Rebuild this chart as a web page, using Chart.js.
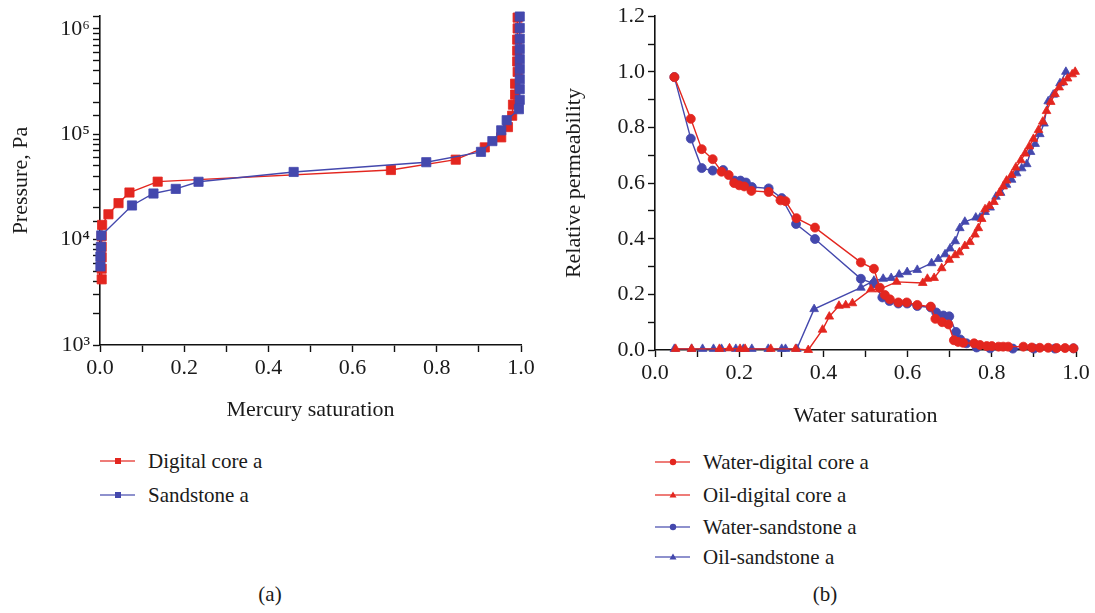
<!DOCTYPE html>
<html lang="en">

<head>
  <meta charset="UTF-8" />
  <title>Capillary pressure and relative permeability</title>
  <script src="https://cdn.jsdelivr.net/npm/chart.js"></script>
  <style>
    body {
      margin: 0;
      background: #fff;
      font-family: "Liberation Serif", "DejaVu Serif", serif;
      color: #1a1a1a;
    }

    .wrap {
      position: relative;
      width: 1095px;
      height: 613px;
      overflow: hidden;
    }

    .chart {
      position: absolute;
      top: 0;
    }

    .legend {
      position: absolute;
      font-size: 21px;
    }

    .legend .item {
      position: absolute;
      left: 0;
      white-space: nowrap;
      display: flex;
      align-items: center;
      height: 24px;
    }

    .legend svg {
      margin-right: 13px;
    }

    .panel {
      position: absolute;
      top: 582px;
      font-size: 21px;
      transform: translateX(-50%);
    }
  </style>
</head>

<body>
  <div class="wrap">
    <canvas id="pcChart" class="chart" width="545" height="440" style="left:0"></canvas>
    <canvas id="krChart" class="chart" width="550" height="440" style="left:545px"></canvas>

    <div class="legend" id="pcLegend" style="left:100px; top:449px"></div>
    <div class="legend" id="krLegend" style="left:655px; top:450px"></div>

    <div class="panel" style="left:270px">(a)</div>
    <div class="panel" style="left:825px">(b)</div>
  </div>

  <script>
    // (a) mercury injection: saturation vs pressure (Pa)
    const digitalSat = [0.004, 0.004, 0.004, 0.004, 0.004, 0.005, 0.02, 0.044, 0.07, 0.137, 0.691, 0.845, 0.914,
      0.953, 0.969, 0.979, 0.981, 0.986, 0.986, 0.992, 0.991, 0.991, 0.991, 0.992, 0.992];
    const digitalPressure = [4200, 5300, 6800, 8550, 10800, 13800, 17400, 22200, 28000, 35500, 45800, 57400, 75100,
      93500, 117000, 150000, 191000, 238000, 302000, 391000, 491000, 621000, 791000, 1010000, 1280000];
    const sandSat = [0.001, 0.001, 0.002, 0.003, 0.076, 0.127, 0.18, 0.234, 0.46, 0.775, 0.905, 0.932, 0.953, 0.966,
      0.995, 0.997, 0.997, 0.997, 0.997, 0.997, 0.997, 0.997, 0.997, 0.997];
    const sandPressure = [5570, 6900, 8550, 10960, 21100, 27400, 30300, 35400, 43900, 54300, 68100, 86100, 109000,
      136000, 173000, 212000, 268000, 333000, 417000, 516000, 644000, 807000, 1020000, 1310000];

    // (b) relative permeability vs water saturation
    const waterDigitalSw = [0.046, 0.085, 0.111, 0.137, 0.158, 0.175, 0.188, 0.2, 0.212, 0.229, 0.27, 0.298, 0.31,
      0.336, 0.38, 0.489, 0.52, 0.534, 0.546, 0.558, 0.578, 0.598, 0.623, 0.655, 0.666, 0.682, 0.697, 0.71, 0.72,
      0.732, 0.758, 0.772, 0.788, 0.8, 0.816, 0.827, 0.839, 0.875, 0.895, 0.914, 0.934, 0.954, 0.974, 0.994];
    const waterDigitalKr = [0.981, 0.831, 0.722, 0.686, 0.641, 0.629, 0.6, 0.592, 0.588, 0.572, 0.568, 0.538, 0.535,
      0.474, 0.44, 0.315, 0.292, 0.224, 0.198, 0.182, 0.171, 0.171, 0.162, 0.156, 0.112, 0.1, 0.092, 0.035, 0.029,
      0.026, 0.024, 0.018, 0.014, 0.014, 0.012, 0.012, 0.012, 0.012, 0.009, 0.008, 0.008, 0.007, 0.007, 0.006];

    const oilDigitalSw = [0.049, 0.087, 0.153, 0.177, 0.202, 0.214, 0.275, 0.334, 0.364, 0.398, 0.414, 0.437, 0.453,
      0.469, 0.513, 0.533, 0.574, 0.636, 0.647, 0.663, 0.681, 0.699, 0.713, 0.723, 0.736, 0.748, 0.76, 0.768, 0.776,
      0.784, 0.794, 0.805, 0.818, 0.827, 0.835, 0.847, 0.857, 0.869, 0.879, 0.889, 0.899, 0.911, 0.921, 0.93, 0.94,
      0.95, 0.96, 0.97, 0.98, 0.991, 0.998];
    const oilDigitalKr = [0.004, 0.004, 0.004, 0.006, 0.004, 0.004, 0.004, 0.004, 0, 0.073, 0.12, 0.159, 0.161, 0.168,
      0.218, 0.218, 0.245, 0.241, 0.256, 0.259, 0.294, 0.324, 0.341, 0.351, 0.374, 0.388, 0.415, 0.438, 0.471, 0.506,
      0.518, 0.532, 0.565, 0.588, 0.609, 0.629, 0.656, 0.682, 0.706, 0.732, 0.759, 0.791, 0.821, 0.859, 0.892, 0.92,
      0.944, 0.962, 0.976, 0.991, 1.0];

    const waterSandSw = [0.046, 0.085, 0.111, 0.137, 0.162, 0.189, 0.203, 0.216, 0.23, 0.27, 0.301, 0.335, 0.38,
      0.489, 0.52, 0.54, 0.557, 0.578, 0.599, 0.623, 0.655, 0.668, 0.685, 0.699, 0.715, 0.725, 0.74, 0.764, 0.796,
      0.85, 0.9, 0.95, 0.994];
    const waterSandKr = [0.981, 0.76, 0.654, 0.645, 0.647, 0.609, 0.609, 0.602, 0.586, 0.581, 0.546, 0.453, 0.399,
      0.256, 0.239, 0.189, 0.176, 0.167, 0.167, 0.158, 0.153, 0.135, 0.124, 0.121, 0.065, 0.038, 0.024, 0.009, 0.006,
      0.005, 0.005, 0.005, 0.006];

    const oilSandSw = [0.046, 0.087, 0.113, 0.139, 0.158, 0.192, 0.21, 0.23, 0.269, 0.301, 0.31, 0.337, 0.378, 0.489,
      0.52, 0.542, 0.561, 0.58, 0.599, 0.623, 0.657, 0.673, 0.689, 0.701, 0.713, 0.724, 0.736, 0.762, 0.772, 0.784,
      0.796, 0.81, 0.821, 0.835, 0.847, 0.859, 0.871, 0.883, 0.892, 0.903, 0.914, 0.924, 0.934, 0.946, 0.962, 0.976];
    const oilSandKr = [0.004, 0.004, 0.004, 0.004, 0.004, 0.004, 0.004, 0.004, 0.004, 0.004, 0.004, 0.004, 0.147,
      0.224, 0.249, 0.256, 0.259, 0.271, 0.28, 0.288, 0.312, 0.327, 0.344, 0.365, 0.391, 0.438, 0.461, 0.476, 0.476,
      0.496, 0.512, 0.551, 0.565, 0.594, 0.612, 0.635, 0.653, 0.668, 0.712, 0.741, 0.776, 0.814, 0.894, 0.918, 0.959,
      1.0];

    const RED = '#e3261f';
    const BLUE = '#4448ad';
    const FONT = '"Liberation Serif", "DejaVu Serif", serif';
    const SUP = { 3: '\u00b3', 4: '\u2074', 5: '\u2075', 6: '\u2076' };

    const pts = (xs, ys) => xs.map((x, i) => ({ x: x, y: ys[i] }));

    function series(label, xs, ys, color, style, radius, order) {
      return {
        label: label,
        data: pts(xs, ys),
        showLine: true,
        borderColor: color,
        backgroundColor: color,
        borderWidth: 1.4,
        pointStyle: style,
        pointRadius: radius,
        pointBorderWidth: 0.8,
        pointBorderColor: color,
        pointBackgroundColor: color,
        tension: 0,
        clip: false,
        order: order
      };
    }

    function axisBase(title, pad, fit) {
      return {
        border: { display: true, color: '#111', width: 1.6 },
        grid: { drawOnChartArea: false, tickLength: 7, tickColor: '#111', tickWidth: 1.4 },
        ticks: { color: '#1a1a1a', font: { family: FONT, size: 22 }, autoSkip: false, maxRotation: 0, padding: 3 },
        title: { display: true, text: title, color: '#1a1a1a', font: { family: FONT, size: 22 }, padding: pad },
        afterFit: fit
      };
    }

    const tenths = v => {
      const n = Math.round(v * 10);
      return n % 2 === 0 ? (n / 10).toFixed(1) : '';
    };

    Chart.defaults.animation = false;

    // (a)
    const pcX = axisBase('Mercury saturation', { top: 0, bottom: 17 }, s => { s.height = 95; });
    pcX.type = 'linear';
    pcX.min = 0;
    pcX.max = 1;
    pcX.ticks.stepSize = 0.1;
    pcX.ticks.callback = tenths;

    const pcY = axisBase('Pressure, Pa', { top: 8, bottom: 0 }, s => { s.width = 100; });
    pcY.type = 'logarithmic';
    pcY.min = 1000;
    pcY.max = 1320000;
    pcY.ticks.padding = 3;
    pcY.ticks.callback = v => {
      const e = Math.log10(v);
      const r = Math.round(e);
      return Math.abs(e - r) < 1e-6 ? '10' + SUP[r] : '';
    };

    new Chart(document.getElementById('pcChart'), {
      type: 'scatter',
      data: {
        datasets: [
          series('Digital core a', digitalSat, digitalPressure, RED, 'rect', 6.5, 1),
          series('Sandstone a', sandSat, sandPressure, BLUE, 'rect', 6.5, 0)
        ]
      },
      options: {
        responsive: false,
        devicePixelRatio: 1,
        layout: { padding: { left: 0, top: 5, right: 24, bottom: 0 } },
        plugins: { legend: { display: false }, tooltip: { enabled: false } },
        scales: { x: pcX, y: pcY }
      }
    });

    // (b)
    const krX = axisBase('Water saturation', { top: 0, bottom: 11 }, s => { s.height = 90; });
    krX.type = 'linear';
    krX.min = 0;
    krX.max = 1;
    krX.ticks.stepSize = 0.1;
    krX.ticks.callback = tenths;

    const krY = axisBase('Relative permeability', { top: 16, bottom: 0 }, s => { s.width = 110; });
    krY.type = 'linear';
    krY.min = 0;
    krY.max = 1.2;
    krY.ticks.stepSize = 0.1;
    krY.ticks.callback = tenths;

    new Chart(document.getElementById('krChart'), {
      type: 'scatter',
      data: {
        datasets: [
          series('Water-digital core a', waterDigitalSw, waterDigitalKr, RED, 'circle', 4.5, 0),
          series('Oil-digital core a', oilDigitalSw, oilDigitalKr, RED, 'triangle', 5, 1),
          series('Water-sandstone a', waterSandSw, waterSandKr, BLUE, 'circle', 4.5, 2),
          series('Oil-sandstone a', oilSandSw, oilSandKr, BLUE, 'triangle', 5, 3)
        ]
      },
      options: {
        responsive: false,
        devicePixelRatio: 1,
        layout: { padding: { left: 0, top: 10, right: 19, bottom: 0 } },
        plugins: { legend: { display: false }, tooltip: { enabled: false } },
        scales: { x: krX, y: krY }
      }
    });

    // legends
    function marker(style, color) {
      if (style === 'rect') return `<rect x="15" y="4" width="6" height="6" fill="${color}"/>`;
      if (style === 'circle') return `<circle cx="18" cy="7" r="3.2" fill="${color}"/>`;
      return `<polygon points="18,3.5 21.5,9.5 14.5,9.5" fill="${color}"/>`;
    }

    function buildLegend(id, items, gaps) {
      const box = document.getElementById(id);
      let top = 0;
      items.forEach((it, i) => {
        const div = document.createElement('div');
        div.className = 'item';
        div.style.top = top + 'px';
        div.innerHTML = `<svg width="35" height="14"><line x1="0" y1="7" x2="35" y2="7" stroke="${it[2]}" stroke-width="1.6" opacity="0.8"/>${marker(it[1], it[2])}</svg><span>${it[0]}</span>`;
        box.appendChild(div);
        top += gaps[i] || 0;
      });
    }

    buildLegend('pcLegend', [
      ['Digital core a', 'rect', RED],
      ['Sandstone a', 'rect', BLUE]
    ], [34]);

    buildLegend('krLegend', [
      ['Water-digital core a', 'circle', RED],
      ['Oil-digital core a', 'triangle', RED],
      ['Water-sandstone a', 'circle', BLUE],
      ['Oil-sandstone a', 'triangle', BLUE]
    ], [33, 32, 30]);
  </script>
</body>

</html>
